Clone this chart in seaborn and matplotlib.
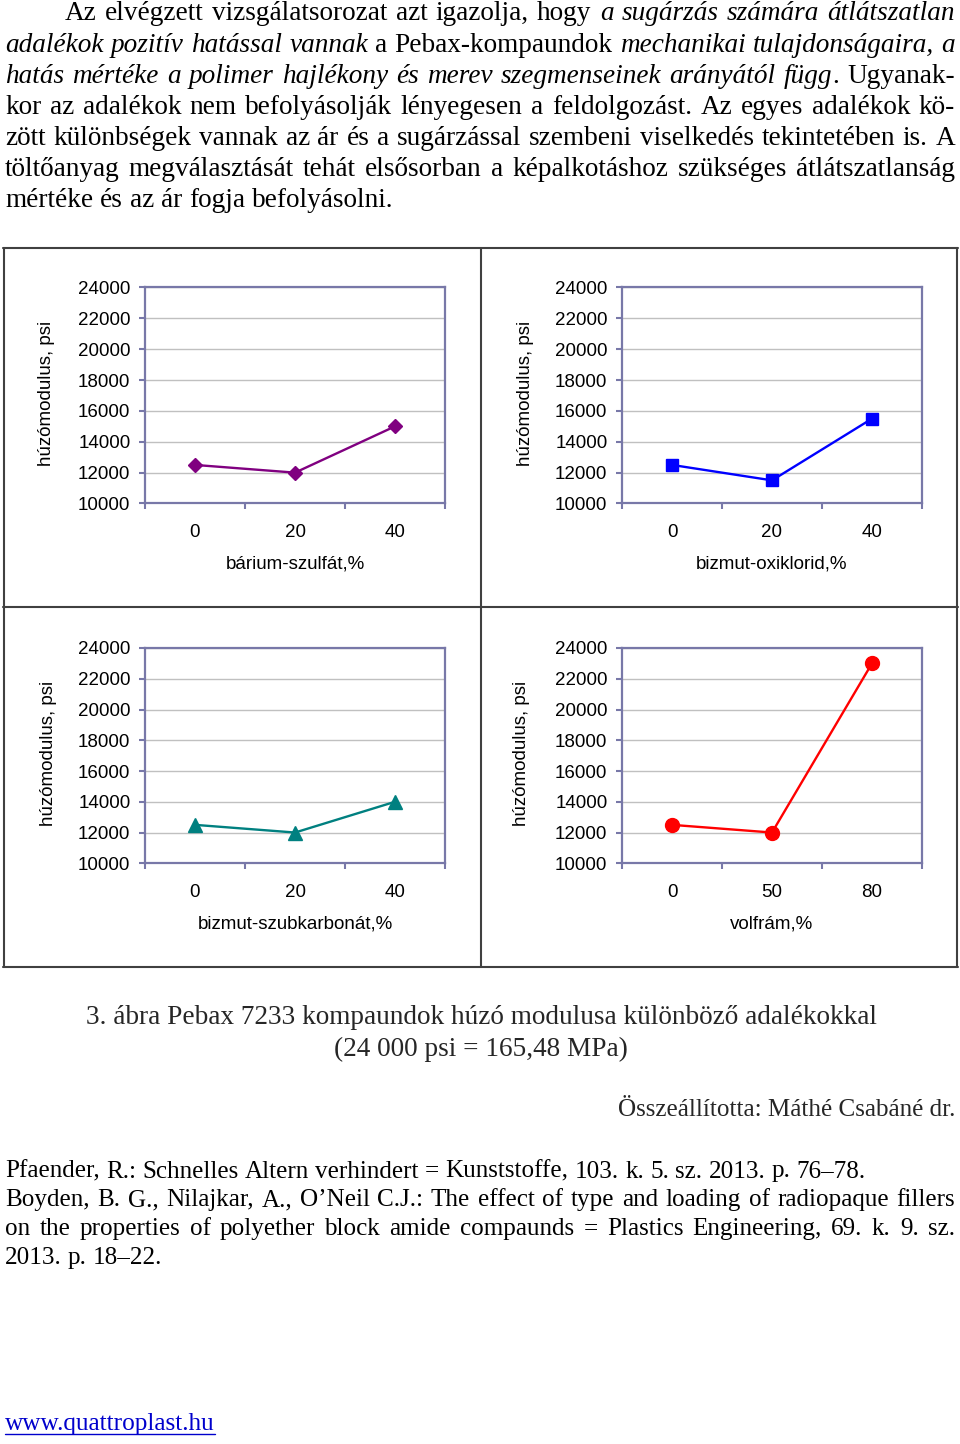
import numpy as np
import matplotlib
matplotlib.use("Agg")
import matplotlib.pyplot as plt
import seaborn as sns
from matplotlib.lines import Line2D

# ---------------- data ----------------
y_axis_title = "húzómodulus, psi"
y_ticks = [10000, 12000, 14000, 16000, 18000, 20000, 22000, 24000]

barium_cats = ["0", "20", "40"]
barium_vals = [12500, 12000, 15000]
barium_title = "bárium-szulfát,%"

oxiklorid_cats = ["0", "20", "40"]
oxiklorid_vals = [12500, 11500, 15500]
oxiklorid_title = "bizmut-oxiklorid,%"

szubkarbonat_cats = ["0", "20", "40"]
szubkarbonat_vals = [12500, 12000, 14000]
szubkarbonat_title = "bizmut-szubkarbonát,%"

volfram_cats = ["0", "50", "80"]
volfram_vals = [12500, 12000, 23000]
volfram_title = "volfrám,%"

# ---------------- page text ----------------
body_lines = [
    [("Az elvégzett vizsgálatsorozat azt igazolja, hogy ", "normal"),
     ("a sugárzás számára átlátszatlan", "italic")],
    [("adalékok pozitív hatással vannak", "italic"), (" a Pebax-kompaundok ", "normal"),
     ("mechanikai tulajdonságaira, a", "italic")],
    [("hatás mértéke a polimer hajlékony és merev szegmenseinek arányától függ", "italic"),
     (". Ugyanak-", "normal")],
    [("kor az adalékok nem befolyásolják lényegesen a feldolgozást. Az egyes adalékok kö-", "normal")],
    [("zött különbségek vannak az ár és a sugárzással szembeni viselkedés tekintetében is. A", "normal")],
    [("töltőanyag megválasztását tehát elsősorban a képalkotáshoz szükséges átlátszatlanság", "normal")],
    [("mértéke és az ár fogja befolyásolni.", "normal")],
]
caption_lines = ["3. ábra Pebax 7233 kompaundok húzó modulusa különböző adalékokkal",
                 "(24 000 psi = 165,48 MPa)"]
author_line = "Összeállította: Máthé Csabáné dr."
ref_lines = [
    [("Pfaender, R.: Schnelles Altern verhindert = Kunststoffe, 103. k. 5. sz. 2013. p. 76–78.", "normal")],
    [("Boyden, B. G., Nilajkar, A., O’Neil C.J.: The effect of type and loading of radiopaque fillers", "normal")],
    [("on the properties of polyether block amide compaunds = Plastics Engineering, 69. k. 9. sz.", "normal")],
    [("2013. p. 18–22.", "normal")],
]
url_text = "www.quattroplast.hu"

# ---------------- setup ----------------
W, H = 960, 1444
sns.set_style("white")
plt.rcParams["font.family"] = ["Liberation Sans", "DejaVu Sans"]
SERIF = ["Liberation Serif", "DejaVu Serif"]

fig = plt.figure(figsize=(W / 100, H / 100), dpi=100)
fig.patch.set_facecolor("white")
renderer = fig.canvas.get_renderer()


def fx(px):
    return px / W


def fy(py):
    return 1 - py / H


def measure(s, size, style="normal"):
    t = fig.text(0, 0, s, fontsize=size, family=SERIF, style=style)
    w = t.get_window_extent(renderer).width
    t.remove()
    return w


def fit_size(s, target, style="normal"):
    return 18 * target / measure(s, 18, style)


def tokens(segments):
    words, cur = [], []
    for text, style in segments:
        parts = text.split(" ")
        for i, part in enumerate(parts):
            if i > 0 and cur:
                words.append(cur)
                cur = []
            if part:
                cur.append((part, style))
    if cur:
        words.append(cur)
    return words


def draw_line(segments, x0, x1, yb, size, justify, color="black"):
    words = tokens(segments)
    widths = [[measure(t, size, st) for t, st in w] for w in words]
    total = sum(sum(ws) for ws in widths)
    if justify and len(words) > 1:
        gap = (x1 - x0 - total) / (len(words) - 1)
    else:
        gap = measure("a a", size) - measure("aa", size)
    x = x0
    for w, ws in zip(words, widths):
        for (t, st), wi in zip(w, ws):
            fig.text(fx(x), fy(yb), t, fontsize=size, family=SERIF, style=st,
                     va="baseline", ha="left", color=color)
            x += wi
        x += gap


# ---------------- body paragraph ----------------
body_size = fit_size("mértéke és az ár fogja befolyásolni.", 387)
for i, segs in enumerate(body_lines):
    x0 = 65 if i == 0 else 5
    draw_line(segs, x0, 955, 20.5 + 31.15 * i, body_size, justify=(i < len(body_lines) - 1))

# ---------------- chart panels ----------------
spine_c = "#7878A8"
frame_c = "#404040"
panels = [
    dict(cats=barium_cats, vals=barium_vals, title=barium_title, color="#800080", marker="D", ms=7.5,
         box=(145, 287.5, 445, 503.5), ylab_x=46),
    dict(cats=oxiklorid_cats, vals=oxiklorid_vals, title=oxiklorid_title, color="#0000FF", marker="s", ms=9,
         box=(622, 287.5, 922, 503.5), ylab_x=525),
    dict(cats=szubkarbonat_cats, vals=szubkarbonat_vals, title=szubkarbonat_title, color="#008080", marker="^", ms=10,
         box=(145, 648, 445, 863.3), ylab_x=48),
    dict(cats=volfram_cats, vals=volfram_vals, title=volfram_title, color="#FF0000", marker="o", ms=10,
         box=(622, 648, 922, 863.3), ylab_x=522),
]

for p in panels:
    l, t, r, b = p["box"]
    ax = fig.add_axes([fx(l), fy(b), (r - l) / W, (b - t) / H])
    pos = np.arange(len(p["cats"]))
    sns.lineplot(x=pos, y=p["vals"], ax=ax, color=p["color"], marker=p["marker"],
                 markersize=p["ms"], markerfacecolor=p["color"], markeredgecolor=p["color"],
                 markeredgewidth=1, linewidth=1.7, zorder=5, clip_on=False)
    ax.set_xlim(-0.5, len(pos) - 0.5)
    ax.set_ylim(y_ticks[0], y_ticks[-1])
    ax.set_yticks(y_ticks)
    ax.set_yticklabels([str(v) for v in y_ticks])
    ax.set_xticks(np.arange(-0.5, len(pos)))
    ax.set_xticklabels([])
    ax.set_xticks(pos, minor=True)
    ax.set_xticklabels(p["cats"], minor=True)
    ax.tick_params(axis="x", which="major", direction="out", length=4.5, width=1.5,
                   color=spine_c, bottom=True)
    ax.tick_params(axis="x", which="minor", length=0, pad=15, labelsize=13.5, labelcolor="black")
    ax.tick_params(axis="y", which="major", direction="out", length=4.5, width=1.5,
                   color=spine_c, left=True, pad=6.0, labelsize=13.5, labelcolor="black")
    ax.grid(False)
    ax.grid(axis="y", which="major", color="#C0C0C0", linewidth=1)
    ax.set_axisbelow(True)
    for s in ax.spines.values():
        s.set_visible(True)
        s.set_color(spine_c)
        s.set_linewidth(1.6)
    ax.set_facecolor("white")
    ax.set_xlabel(p["title"], fontsize=13.5, color="black")
    ax.xaxis.label.set_va("baseline")
    ax.xaxis.set_label_coords(0.5, -(65.5 / (b - t)))
    ax.set_ylabel(y_axis_title, fontsize=13.5, color="black")
    ax.yaxis.label.set_va("center")
    ax.yaxis.set_label_coords((p["ylab_x"] - l) / (r - l), 0.51)

# frames around the panels
frame_lines = [
    ((3, 958), (247.5, 247.5)),
    ((3, 958), (607, 607)),
    ((3, 958), (966.5, 966.5)),
    ((3.5, 3.5), (247.5, 966.5)),
    ((957, 957), (247.5, 966.5)),
    ((480.5, 480.5), (247.5, 966.5)),
]
for xs, ys in frame_lines:
    fig.add_artist(Line2D([fx(xs[0]), fx(xs[1])], [fy(ys[0]), fy(ys[1])],
                          transform=fig.transFigure, color=frame_c, linewidth=1.5))

# ---------------- caption ----------------
cap_size = fit_size(caption_lines[0], 792)
fig.text(fx(481), fy(1023.5), caption_lines[0], fontsize=cap_size, family=SERIF,
         ha="center", va="baseline")
fig.text(fx(481), fy(1055.5), caption_lines[1], fontsize=cap_size, family=SERIF,
         ha="center", va="baseline")

auth_size = fit_size(author_line, 338)
fig.text(fx(955), fy(1116), author_line, fontsize=auth_size, family=SERIF,
         ha="right", va="baseline")

# ---------------- references ----------------
ref_size = fit_size(ref_lines[0][0][0], 863)
ref_just = [False, True, True, False]
for i, segs in enumerate(ref_lines):
    draw_line(segs, 5, 955, 1177.5 + 28.8 * i, ref_size, justify=ref_just[i])

# ---------------- url ----------------
url_size = fit_size(url_text, 210)
url_c = "#0000CC"
fig.text(fx(5), fy(1430), url_text, fontsize=url_size, family=SERIF, color=url_c,
         ha="left", va="baseline")
fig.add_artist(Line2D([fx(5), fx(215)], [fy(1433.5), fy(1433.5)], transform=fig.transFigure,
                      color=url_c, linewidth=1))

fig.savefig("out.png", dpi=100, facecolor="white")
